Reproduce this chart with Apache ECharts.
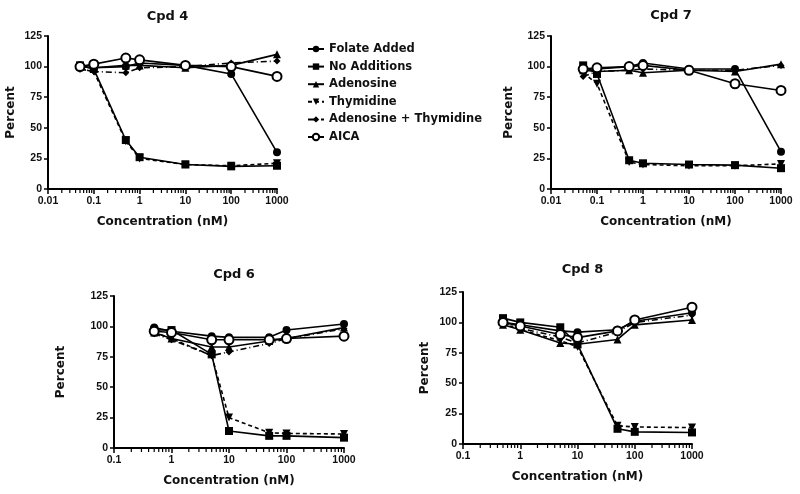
<!DOCTYPE html>
<html>
<head>
<meta charset="utf-8">
<script src="https://cdn.jsdelivr.net/npm/echarts@6/dist/echarts.min.js"></script>
<style>
html,body{margin:0;padding:0;background:#fff;}
#chart{width:800px;height:494px;}
</style>
</head>
<body>
<div id="chart"></div>
<script>
// ---- data ----
const seriesNames = ['Folate Added', 'No Additions', 'Adenosine', 'Thymidine', 'Adenosine + Thymidine', 'AICA'];
const panelTitles = ['Cpd 4', 'Cpd 7', 'Cpd 6', 'Cpd 8'];
const yTicks = [0, 25, 50, 75, 100, 125];
const xTicksTop = [0.01, 0.1, 1, 10, 100, 1000];
const xTicksBottom = [0.1, 1, 10, 100, 1000];
const minorMultipliers = [2, 3, 4, 5, 6, 7, 8, 9];

const concTop = [0.05, 0.1, 0.5, 1, 10, 100, 1000];
const concBottom = [0.5, 1, 5, 10, 50, 100, 1000];

// Cpd 4
const cpd4Folate   = [100, 99, 100, 103, 101, 94, 30];
const cpd4NoAdd    = [101, 98, 40, 26, 20, 18.5, 19];
const cpd4Aden     = [100, 99, 101, 101, 99, 101, 110];
const cpd4Thym     = [98, 96, 39, 25, 20, 19, 21];
const cpd4AdenThym = [98, 96, 95, 99, 100, 103, 104.5];
const cpd4AICA     = [100, 102, 107, 105.5, 101, 100, 92];

// Cpd 7
const cpd7Folate   = [98, 98, 100, 103, 98, 98, 30.5];
const cpd7NoAdd    = [101, 94, 23.5, 21, 20, 19.5, 17];
const cpd7Aden     = [97, 96, 97, 95, 97, 96, 102];
const cpd7Thym     = [95, 86, 22, 20, 19, 19, 20.5];
const cpd7AdenThym = [92, 96, 97, 98, 97, 97, 101];
const cpd7AICA     = [98, 99, 100, 101, 97, 86, 80.5];

// Cpd 6
const cpd6Folate   = [99, 96, 92, 91, 91, 97, 102];
const cpd6NoAdd    = [97, 97, 77, 14, 10, 10, 8.5];
const cpd6Aden     = [95, 90, 83, 83, 88, 90, 99];
const cpd6Thym     = [95, 90, 76, 25, 12.5, 12, 11.5];
const cpd6AdenThym = [94, 89, 76, 79, 86, 90, 98];
const cpd6AICA     = [96, 95, 89, 89, 89, 90, 92];

// Cpd 8
const cpd8Folate   = [100, 98, 93, 92, 94, 101, 108];
const cpd8NoAdd    = [103.5, 100, 96, 82, 12.5, 10, 9.5];
const cpd8Aden     = [98, 94, 83, 82, 86, 98, 102];
const cpd8Thym     = [99, 94, 85, 80, 15, 14, 13.5];
const cpd8AdenThym = [100, 95, 88, 83, 92, 100, 106];
const cpd8AICA     = [100, 97, 90, 87.5, 93, 102, 112.5];

const panelData = [
  [cpd4Folate, cpd4NoAdd, cpd4Aden, cpd4Thym, cpd4AdenThym, cpd4AICA],
  [cpd7Folate, cpd7NoAdd, cpd7Aden, cpd7Thym, cpd7AdenThym, cpd7AICA],
  [cpd6Folate, cpd6NoAdd, cpd6Aden, cpd6Thym, cpd6AdenThym, cpd6AICA],
  [cpd8Folate, cpd8NoAdd, cpd8Aden, cpd8Thym, cpd8AdenThym, cpd8AICA]
];
const panelConc = [concTop, concTop, concBottom, concBottom];
const panelXTicks = [xTicksTop, xTicksTop, xTicksBottom, xTicksBottom];

// ---- layout / styles ----
const grids = [
  {left: 48, top: 36, width: 229, height: 153},
  {left: 551, top: 36, width: 230, height: 153},
  {left: 114, top: 296, width: 230, height: 152},
  {left: 463, top: 292, width: 229, height: 152}
];
const yNameGaps = [31, 36, 47, 32];
const titleTops = [5, 4, 263, 258];
const FONT = '"Liberation Sans", Arial, sans-serif';
const WIDE = '"DejaVu Sans", sans-serif';
const seriesStyles = [
  {symbol: 'circle', symbolSize: 8, lineType: 'solid', fill: '#000'},
  {symbol: 'rect', symbolSize: 8, lineType: 'solid', fill: '#000'},
  {symbol: 'triangle', symbolSize: 8, lineType: 'solid', fill: '#000'},
  {symbol: 'triangle', symbolSize: 8, lineType: [4, 3], fill: '#000', rotate: 180},
  {symbol: 'diamond', symbolSize: 7, lineType: [6, 3, 1, 3], fill: '#000'},
  {symbol: 'circle', symbolSize: 9, lineType: 'solid', fill: '#fff', border: 2}
];

const option = {
  animation: false,
  backgroundColor: '#fff',
  textStyle: {fontFamily: FONT},
  title: panelTitles.map((t, i) => ({
    text: t,
    left: grids[i].left + grids[i].width / 2,
    top: titleTops[i],
    textAlign: 'center',
    textStyle: {fontSize: 13, fontWeight: 'bold', color: '#111', fontFamily: WIDE}
  })),
  legend: {
    data: seriesNames,
    orient: 'vertical',
    left: 302,
    top: 38,
    itemGap: 5.6,
    itemWidth: 16,
    itemHeight: 8,
    textStyle: {fontSize: 11.5, fontWeight: 'bold', color: '#111', fontFamily: WIDE}
  },
  grid: grids.map(g => Object.assign({containLabel: false}, g)),
  xAxis: grids.map((g, i) => ({
    type: 'log',
    gridIndex: i,
    logBase: 10,
    min: panelXTicks[i][0],
    max: panelXTicks[i][panelXTicks[i].length - 1],
    name: 'Concentration (nM)',
    nameLocation: 'middle',
    nameGap: 27,
    nameTextStyle: {fontSize: 12, fontWeight: 'bold', color: '#111', fontFamily: WIDE},
    axisLine: {lineStyle: {color: '#000', width: 2}},
    axisTick: {show: true, length: 5, lineStyle: {color: '#000', width: 1.5}},
    axisLabel: {fontSize: 10.5, fontWeight: 'bold', color: '#111', margin: 7,
      formatter: v => String(v)},
    splitLine: {show: false}
  })),
  yAxis: grids.map((g, i) => ({
    type: 'value',
    gridIndex: i,
    min: yTicks[0],
    max: yTicks[yTicks.length - 1],
    interval: 25,
    name: 'Percent',
    nameLocation: 'middle',
    nameGap: yNameGaps[i],
    nameRotate: 90,
    nameTextStyle: {fontSize: 12, fontWeight: 'bold', color: '#111', fontFamily: WIDE},
    axisLine: {show: true, lineStyle: {color: '#000', width: 2}},
    axisTick: {show: true, length: 4, lineStyle: {color: '#000', width: 1.5}},
    axisLabel: {fontSize: 10.5, fontWeight: 'bold', color: '#111', margin: 6},
    splitLine: {show: false}
  })),
  series: []
};

panelData.forEach((arrs, p) => {
  arrs.forEach((vals, s) => {
    const st = seriesStyles[s];
    option.series.push({
      type: 'line',
      name: seriesNames[s],
      xAxisIndex: p,
      yAxisIndex: p,
      data: panelConc[p].map((c, k) => [c, vals[k]]),
      symbol: st.symbol,
      symbolSize: st.symbolSize,
      symbolRotate: st.rotate || 0,
      showSymbol: true,
      lineStyle: {color: '#000', width: 1.6, type: st.lineType},
      itemStyle: {color: st.fill, borderColor: '#000', borderWidth: st.border || 0},
      z: 2 + s
    });
  });
});

const chart = echarts.init(document.getElementById('chart'), null, {renderer: 'canvas'});
chart.setOption(option);

// log-axis minor ticks, positioned through each axis' own scale
const minorTickGraphics = [];
panelXTicks.forEach((ticks, p) => {
  ticks.slice(0, -1).forEach(d => {
    minorMultipliers.forEach(m => {
      const pt = chart.convertToPixel({xAxisIndex: p, yAxisIndex: p}, [d * m, yTicks[0]]);
      if (!pt) return;
      minorTickGraphics.push({
        type: 'line',
        silent: true,
        z: 100,
        shape: {x1: pt[0], y1: pt[1] + 1, x2: pt[0], y2: pt[1] + 4},
        style: {stroke: '#000', lineWidth: 1.2}
      });
    });
  });
});
chart.setOption({graphic: minorTickGraphics});
</script>
</body>
</html>
